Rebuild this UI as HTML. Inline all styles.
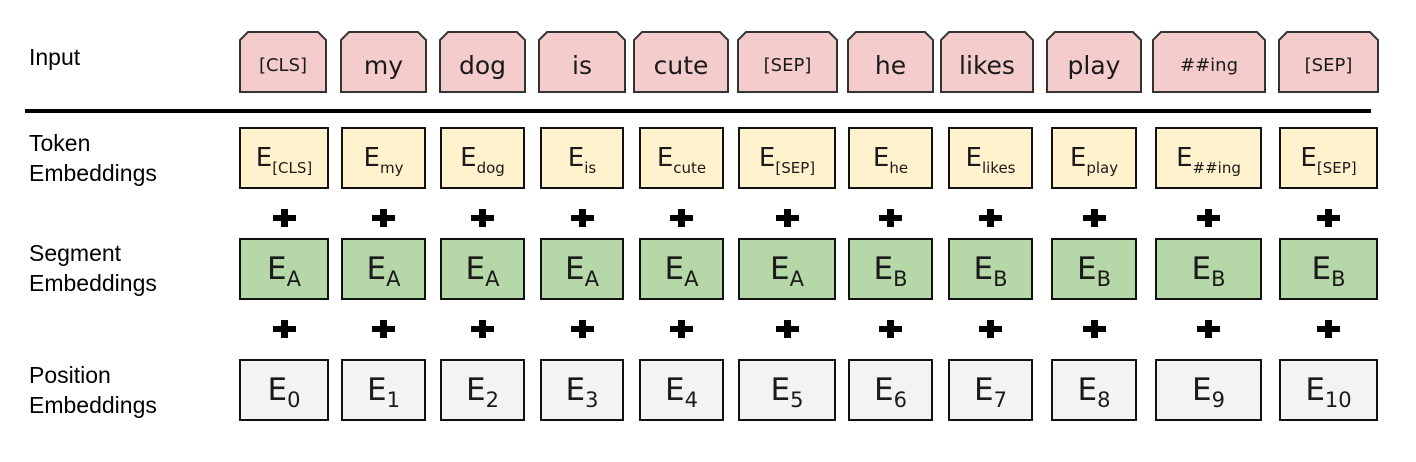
<!DOCTYPE html>
<html><head><meta charset="utf-8"><style>
body{margin:0;width:1416px;height:462px;background:#fff;position:relative;overflow:hidden;font-family:"DejaVu Sans","Liberation Sans",sans-serif;color:#1a1a1a}
.lbl{position:absolute;left:29px;font-size:23px;line-height:30px;font-family:"Liberation Sans",sans-serif;color:#000}
.box{position:absolute;box-sizing:border-box;border:2px solid #111;display:flex;align-items:center;justify-content:center;white-space:nowrap}
.plus{position:absolute;width:23px;height:18px}
.plus:before{content:"";position:absolute;left:0;top:6px;width:23px;height:6px;background:#000}
.plus:after{content:"";position:absolute;left:8px;top:0;width:7px;height:18px;background:#000}
.sb{position:relative;top:0.45em}
</style></head><body>
<div class="lbl" style="top:42px">Input</div>
<div class="lbl" style="top:128px">Token<br>Embeddings</div>
<div class="lbl" style="top:238px">Segment<br>Embeddings</div>
<div class="lbl" style="top:360px">Position<br>Embeddings</div>
<div style="position:absolute;left:25px;top:109px;width:1346px;height:4px;background:#000"></div>
<svg id="inp" width="1416" height="120" style="position:absolute;left:0;top:0"></svg>
<script>
const tokens=["[CLS]","my","dog","is","cute","[SEP]","he","likes","play","##ing","[SEP]"];
const segs=["A","A","A","A","A","A","B","B","B","B","B"];
const inCols=[[240,326],[341,426],[440,525],[539,625],[634,728],[738,837],[848,933],[941,1033],[1047,1141],[1153,1265],[1279,1378]];
const cols=[[239,329],[341,426],[440,525],[540,624],[639,724],[738,836],[848,933],[948,1033],[1051,1137],[1155,1262],[1279,1378]];
const svg=document.getElementById('inp');
const NS="http://www.w3.org/2000/svg";
tokens.forEach((t,i)=>{
  const [x0,x1]=inCols[i],y0=32,y1=92,c=8;
  const p=document.createElementNS(NS,'path');
  p.setAttribute('d',`M${x0} ${y1}L${x0} ${y0+c}L${x0+c} ${y0}L${x1-c} ${y0}L${x1} ${y0+c}L${x1} ${y1}Z`);
  p.setAttribute('fill','#f4cccc');p.setAttribute('stroke','#333');p.setAttribute('stroke-width','2');
  
  
  svg.appendChild(p);
  const small=t[0]=='['||t[0]=='#';
  const tx=document.createElementNS(NS,'text');
  tx.setAttribute('x',(x0+x1)/2);tx.setAttribute('y',small?71:74);
  tx.setAttribute('text-anchor','middle');
  tx.setAttribute('font-size',small?18:25);
  tx.setAttribute('font-family','DejaVu Sans, sans-serif');tx.setAttribute('fill','#1a1a1a');
  tx.textContent=t;
  
  
  svg.appendChild(tx);
});
function addBox(x0,x1,y,h,bg,html,fs,name){
  const d=document.createElement('div');d.className='box';
  d.style.cssText=`left:${x0}px;top:${y}px;width:${x1-x0}px;height:${h}px;background:${bg};font-size:${fs}px`;
  d.innerHTML='<span>'+html+'</span>';
  
  
  document.body.appendChild(d);
}
function addPlus(cx,cy){
  const p=document.createElement('div');p.className='plus';
  p.style.left=(cx-11.5)+'px';p.style.top=(cy-9)+'px';
  
  
  document.body.appendChild(p);
}
cols.forEach(([x0,x1],i)=>{
  addBox(x0,x1,127,62,'#fff2cc',`E<span class="sb" style="font-size:15px">${tokens[i]}</span>`,26,'token-embedding-box');
  addBox(x0,x1,238,62,'#b6d7a8',`E<span class="sb" style="font-size:21px;top:0.35em">${segs[i]}</span>`,31,'segment-embedding-box');
  addBox(x0,x1,359,62,'#f3f3f3',`E<span class="sb" style="font-size:21px;top:0.35em">${i}</span>`,31,'position-embedding-box');
  addPlus((x0+x1)/2,218);
  addPlus((x0+x1)/2,329);
});
</script>
</body></html>
